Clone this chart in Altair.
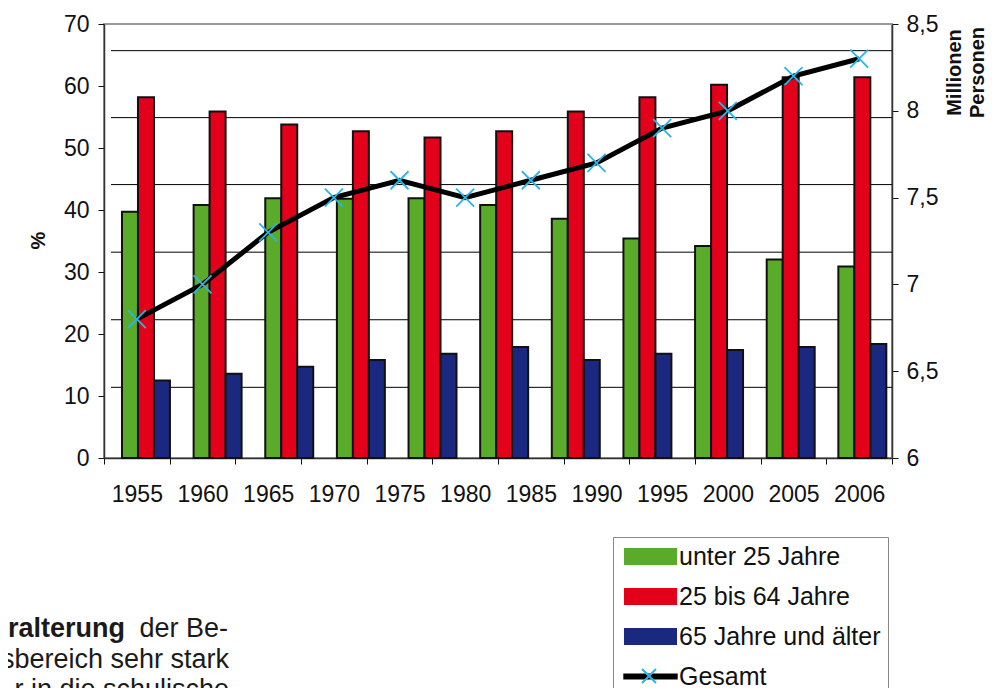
import altair as alt
import pandas as pd

# ---- data ----
years = ["1955", "1960", "1965", "1970", "1975", "1980", "1985", "1990", "1995", "2000", "2005", "2006"]
gesamt = [6.8, 7.0, 7.3, 7.5, 7.6, 7.5, 7.6, 7.7, 7.9, 8.0, 8.2, 8.3]

# the bar groups (11 of them) are spread over the whole width
bar_groups = ["1955", "1960", "1965", "1970", "1975", "1980", "1985", "1990", "1995", "2000", "2005"]
unter25 = [39.7, 40.8, 41.9, 41.8, 41.9, 40.8, 38.6, 35.4, 34.2, 32.0, 30.9]
mittel = [58.2, 55.9, 53.8, 52.7, 51.7, 52.7, 55.9, 58.2, 60.2, 61.4, 61.4]
ueber65 = [12.5, 13.6, 14.7, 15.8, 16.8, 17.9, 15.8, 16.8, 17.4, 17.9, 18.4]

series = ["unter 25 Jahre", "25 bis 64 Jahre", "65 Jahre und älter", "Gesamt"]
colors = ["#5aab2a", "#e2001a", "#1b2880", "#000000"]

grid_levels = [11.4, 22.3, 33.2, 44.1, 54.9, 65.7]
left_ticks = [0, 10, 20, 30, 40, 50, 60, 70]
right_ticks = [6, 6.5, 7, 7.5, 8, 8.5]

page_text = ["eralterung", "der Be-", "sbereich sehr stark", "r in die schulische"]

W, H = 788, 434
FONT = "Liberation Sans"

bar_rows = []
for name, vals in zip(series[:3], [unter25, mittel, ueber65]):
    for g, v in zip(bar_groups, vals):
        bar_rows.append({"group": g, "series": name, "value": v})
bar_df = pd.DataFrame(bar_rows)
line_df = pd.DataFrame({"year": years, "gesamt": gesamt, "marker": "Gesamt"})
grid_df = pd.DataFrame({"level": grid_levels})

RECT = "M-3.12,-1H3.12V1H-3.12Z"
LINE = "M-3.2,-0.36H3.2V0.36H-3.2Z"
XPATH = "M-1,-1L1,1M-1,1L1,-1"


def yleft_scale():
    return alt.Scale(domain=[0, 70], nice=False, zero=True)


grid = alt.Chart(grid_df).mark_rule(color="black", strokeWidth=1).encode(
    y=alt.Y("level:Q", scale=yleft_scale(), axis=None),
    x=alt.value(7),
    x2=alt.value(W),
)

bars = alt.Chart(bar_df).mark_bar(stroke="#111111", strokeWidth=2, opacity=1).encode(
    x=alt.X("group:N", sort=bar_groups,
            scale=alt.Scale(domain=bar_groups, paddingInner=0, paddingOuter=0),
            axis=None),
    xOffset=alt.XOffset("series:N", sort=series[:3],
                        scale=alt.Scale(domain=series[:3], paddingInner=0,
                                        paddingOuter=0.74, align=0.76)),
    y=alt.Y("value:Q", scale=yleft_scale(),
            axis=alt.Axis(orient="left", values=left_ticks, grid=False, tickSize=6,
                          labelPadding=9, labelFontSize=23, title="%", titleFontSize=20,
                          titleFontWeight="bold", titleAngle=270, titleX=-66, titleY=216,
                          titleAlign="center", titleBaseline="middle")),
    fill=alt.Fill("series:N", scale=alt.Scale(domain=series[:3], range=colors[:3]),
                  legend=None),
)

LEG = alt.Legend(orient="none", legendX=509, legendY=513, title=None,
                 symbolSize=289, labelFont=FONT, labelFontSize=25, labelColor="#111111",
                 padding=7, strokeColor="#888888", fillColor="white", rowPadding=14,
                 symbolOffset=18, labelOffset=16, symbolStrokeWidth=0, labelLimit=400,
                 symbolOpacity=1)

legend_layer = alt.Chart(pd.DataFrame({"series": series})).transform_filter(
    "false").mark_point(filled=True, opacity=1).encode(
    color=alt.Color("series:N", scale=alt.Scale(domain=series, range=colors), legend=LEG),
    shape=alt.Shape("series:N", scale=alt.Scale(domain=series, range=[RECT, RECT, RECT, LINE]),
                    legend=LEG),
)

texts = []
text_specs = [
    (page_text[0], "bold", 21, 613),
    (page_text[1], "normal", 124, 613),
    (page_text[2], "normal", 125, 644),
    (page_text[3], "normal", 125, 674),
]
for t, wgt, xx, yy in text_specs:
    texts.append(
        alt.Chart(pd.DataFrame({"t": [t]})).mark_text(
            align="right", baseline="alphabetic", font=FONT, fontSize=27,
            fontWeight=wgt, color="#1a1a1a").encode(
            text="t:N", x=alt.value(xx), y=alt.value(yy))
    )


def x_line(show):
    ax = alt.Axis(orient="bottom", title=None, labelAngle=0, tickBand="extent",
                  tickSize=6, labelPadding=19, labelFontSize=23, grid=False) if show else None
    return alt.X("year:N", sort=years,
                 scale=alt.Scale(type="band", domain=years, paddingInner=0, paddingOuter=0),
                 axis=ax)


def y_right(show):
    ax = alt.Axis(orient="right", values=right_ticks, grid=False, tickSize=6,
                  labelPadding=8, labelFontSize=23,
                  labelExpr="replace(format(datum.value, '.1~f'), '.', ',')",
                  title=["Millionen", "Personen"], titleFontSize=20,
                  titleFontWeight="bold", titleAngle=270, titleX=52, titleY=48,
                  titleAlign="center", titleBaseline="top", titleLineHeight=23) if show else None
    return alt.Y("gesamt:Q", scale=alt.Scale(domain=[6, 8.5], nice=False, zero=False), axis=ax)


line = alt.Chart(line_df).mark_line(color="black", strokeWidth=5).encode(
    x=x_line(True), y=y_right(True))
points = alt.Chart(line_df).mark_point(shape=XPATH, size=324, filled=False, strokeWidth=1.8,
                                       opacity=1).encode(
    x=x_line(False), y=y_right(False),
    stroke=alt.Stroke("marker:N", scale=alt.Scale(domain=["Gesamt"], range=["#29b6e6"]),
                      legend=alt.Legend(orient="none", legendX=537, legendY=644, title=None,
                                        symbolType=XPATH, symbolSize=196,
                                        symbolStrokeWidth=2, labelExpr="''", padding=0,
                                        symbolOffset=0, labelFontSize=1)),
)

chart = alt.layer(grid, bars, legend_layer, *texts, line, points).resolve_scale(
    x="independent", y="independent"
).properties(
    width=W, height=H,
    padding={"left": 96, "top": 16, "right": 95, "bottom": 230},
    autosize=alt.AutoSizeParams(type="none"),
).configure_view(
    fill="#d8d9db", stroke="#9a9a9a", strokeWidth=2
).configure_axis(
    labelFont=FONT, titleFont=FONT, labelColor="#111111", titleColor="#111111",
    domainColor="#333333", domainWidth=1.5, tickColor="#111111",
)

chart.save("out.html", embed_options={"renderer": "svg", "actions": False})
